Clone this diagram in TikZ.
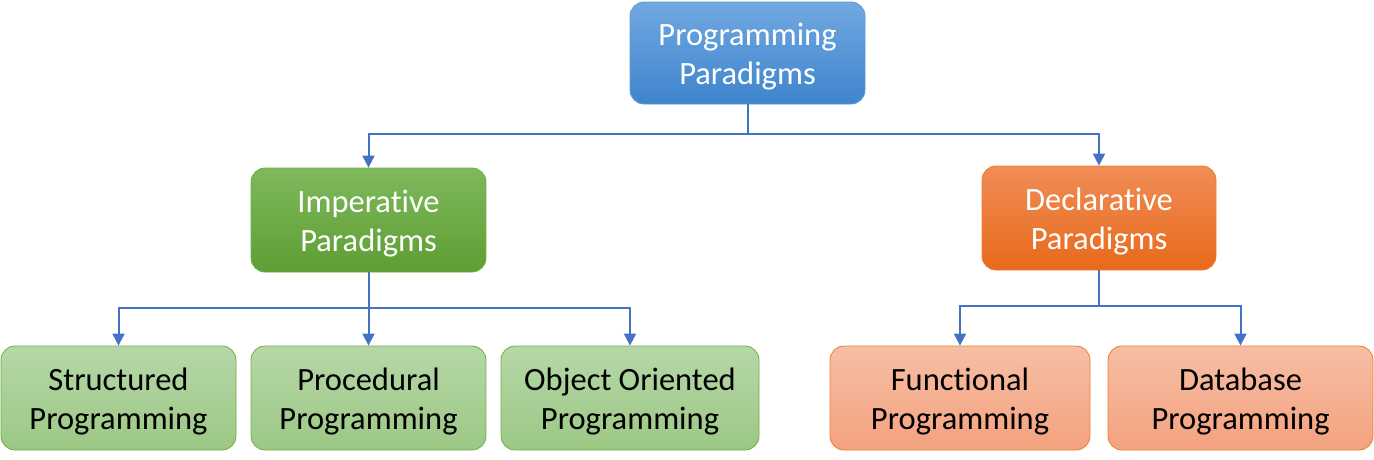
\documentclass[tikz,border=0pt]{standalone}
\usepackage{fontspec}
\setmainfont[Ligatures=CommonOff]{Carlito}
\usetikzlibrary{arrows.meta,shadings}
\newcommand{\lift}{\rule{0pt}{29pt}}
\definecolor{conn}{HTML}{4472C4}
\definecolor{blueT}{HTML}{71A8E1}
\definecolor{blueB}{HTML}{3F84CC}
\definecolor{blueD}{HTML}{5B9BD5}
\definecolor{greenT}{HTML}{7EB95C}
\definecolor{greenB}{HTML}{5E9E33}
\definecolor{greenD}{HTML}{70AD47}
\definecolor{orT}{HTML}{F08D56}
\definecolor{orB}{HTML}{E8691A}
\definecolor{orD}{HTML}{ED7D31}
\definecolor{lgT}{HTML}{B6D7A8}
\definecolor{lgB}{HTML}{9CC884}
\definecolor{loT}{HTML}{F7BEA5}
\definecolor{loB}{HTML}{F4A27F}
\tikzset{
  box/.style={rounded corners=14pt, draw, line width=0.8pt, align=center,
    inner sep=0pt, font=\fontsize{32.5}{39}\selectfont},
  bluebox/.style={box, draw=blueD, top color=blueT, bottom color=blueB, text=white},
  greenbox/.style={box, draw=greenD, top color=greenT, bottom color=greenB, text=white},
  orangebox/.style={box, draw=orD, top color=orT, bottom color=orB, text=white},
  lgreen/.style={box, draw=greenD, top color=lgT, bottom color=lgB, text=black},
  lorange/.style={box, draw=orD, top color=loT, bottom color=loB, text=black},
  conn/.style={draw=conn, line width=2pt, -{Triangle[width=12pt,length=12pt]}}
}
\begin{document}
\begin{tikzpicture}[x=1pt,y=-1pt]
\useasboundingbox (0,0) rectangle (1374,459);
\node[bluebox, minimum width=235pt, minimum height=102pt] (top) at (747.5,53) {\lift Programming\\Paradigms};
\node[greenbox, minimum width=235pt, minimum height=104pt] (imp) at (368.5,220) {\lift Imperative\\Paradigms};
\node[orangebox, minimum width=234pt, minimum height=104pt] (dec) at (1099,218) {\lift Declarative\\Paradigms};
\node[lgreen, minimum width=235pt, minimum height=104pt] (str) at (118.5,398) {\lift Structured\\Programming};
\node[lgreen, minimum width=235pt, minimum height=104pt] (pro) at (368.5,398) {\lift Procedural\\Programming};
\node[lgreen, minimum width=258pt, minimum height=104pt] (oo) at (630,398) {\lift Object Oriented\\Programming};
\node[lorange, minimum width=260pt, minimum height=104pt] (fun) at (960,398) {\lift Functional\\Programming};
\node[lorange, minimum width=265pt, minimum height=104pt] (db) at (1240.5,398) {\lift Database\\Programming};
\draw[conn] (top.south) -- ++(0,30) -| (imp.north);
\draw[conn] (top.south) -- ++(0,30) -| (dec.north);
\draw[conn] (imp.south) -- ++(0,36) -| (str.north);
\draw[conn] (imp.south) -- (pro.north);
\draw[conn] (imp.south) -- ++(0,36) -| (oo.north);
\draw[conn] (dec.south) -- ++(0,36) -| (fun.north);
\draw[conn] (dec.south) -- ++(0,36) -| (db.north);
\end{tikzpicture}
\end{document}
